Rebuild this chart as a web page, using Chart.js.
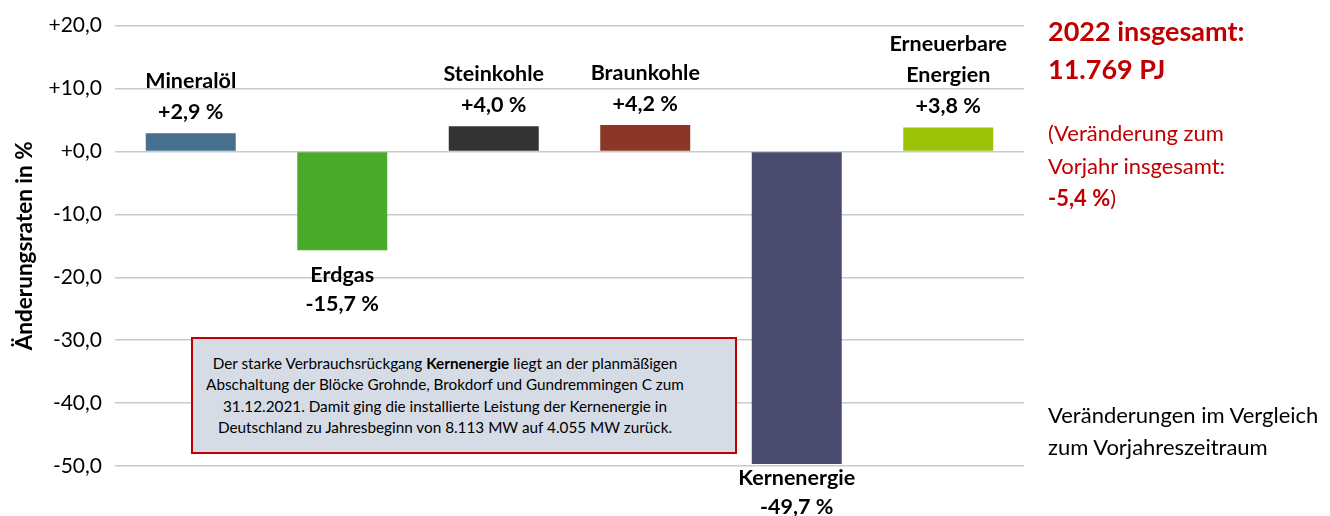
<!DOCTYPE html>
<html>
<head>
<meta charset="utf-8">
<script src="https://cdn.jsdelivr.net/npm/chart.js@4/dist/chart.umd.min.js"></script>
<style>
  html, body { margin: 0; padding: 0; background: #fff; }
  #wrap { position: relative; width: 1330px; height: 516px; font-family: Lato, sans-serif; }
  canvas { position: absolute; left: 0; top: 0; }
  .note {
    position: absolute; left: 191px; top: 337px; width: 504px; height: 113px;
    padding-right: 38px;
    border: 2.5px solid #c00000; background: #d6dce5; color: #000;
    display: flex; align-items: center; justify-content: center; text-align: center;
    font-size: 15.3px; line-height: 21.4px;
  }
  .side { position: absolute; left: 1048px; white-space: nowrap; }
  .total { top: 12px; color: #c00000; font-weight: bold; font-size: 27px; line-height: 38px; }
  .change { top: 117px; color: #c00000; font-size: 22px; line-height: 32.5px; }
  .hint { top: 399px; color: #000; font-size: 22px; line-height: 32px; }
</style>
</head>
<body>
<div id="wrap">
  <canvas id="chart" width="1330" height="516"></canvas>
  <div class="note"><div>Der starke Verbrauchsrückgang <b>Kernenergie</b> liegt an der planmäßigen<br>Abschaltung der Blöcke Grohnde, Brokdorf und Gundremmingen C zum<br>31.12.2021. Damit ging die installierte Leistung der Kernenergie in<br>Deutschland zu Jahresbeginn von 8.113 MW auf 4.055 MW zurück.</div></div>
  <div class="side total">2022 insgesamt:<br>11.769 PJ</div>
  <div class="side change">(Veränderung zum<br>Vorjahr insgesamt:<br><b>-5,4 %</b>)</div>
  <div class="side hint">Veränderungen im Vergleich<br>zum Vorjahreszeitraum</div>
</div>
<script>
const categories = ['Mineralöl', 'Erdgas', 'Steinkohle', 'Braunkohle', 'Kernenergie', ['Erneuerbare', 'Energien']];
const changes = [2.9, -15.7, 4.0, 4.2, -49.7, 3.8];
const barColors = ['#47708f', '#4aab2a', '#333333', '#8b3626', '#4b4b70', '#9dc206'];
const yTicks = [20, 10, 0, -10, -20, -30, -40, -50];

const fmt = (v, digits) => (v >= 0 ? '+' : '') + v.toFixed(digits).replace('.', ',');

// Beschriftung über / unter den Balken
const barLabels = {
  id: 'barLabels',
  afterDatasetsDraw(chart) {
    const ctx = chart.ctx;
    const meta = chart.getDatasetMeta(0);
    ctx.save();
    ctx.font = 'bold 21.5px Lato, sans-serif';
    ctx.fillStyle = '#000';
    ctx.textAlign = 'center';
    ctx.textBaseline = 'middle';
    meta.data.forEach((bar, i) => {
      const name = Array.isArray(categories[i]) ? categories[i] : [categories[i]];
      const lines = [...name, fmt(changes[i], 1) + ' %'];
      if (changes[i] >= 0) {
        lines.slice().reverse().forEach((t, k) => ctx.fillText(t, bar.x, bar.y - 21 - k * 31));
      } else {
        let first = bar.y + 25;
        const last = first + (lines.length - 1) * 29;
        if (last > 507) first -= last - 507;
        lines.forEach((t, k) => ctx.fillText(t, bar.x, first + k * 29));
      }
    });
    ctx.restore();
  }
};

new Chart(document.getElementById('chart'), {
  type: 'bar',
  data: {
    labels: categories,
    datasets: [{
      data: changes,
      backgroundColor: barColors,
      barPercentage: 0.594,
      categoryPercentage: 1
    }]
  },
  options: {
    responsive: false,
    animation: false,
    layout: { padding: { left: 0, right: 306, top: 25, bottom: 50 } },
    plugins: { legend: { display: false }, tooltip: { enabled: false } },
    scales: {
      x: { display: false },
      y: {
        min: -50,
        max: 20,
        afterFit: s => { s.width = 115; },
        afterBuildTicks: s => { s.ticks = yTicks.map(v => ({ value: v })); },
        grid: { color: '#c3cbd6', lineWidth: 1.5, drawTicks: false },
        border: { display: false },
        ticks: {
          padding: 13,
          color: '#000',
          font: { family: 'Lato, sans-serif', size: 21 },
          callback: v => fmt(v, 1)
        },
        title: {
          display: true,
          text: 'Änderungsraten in %',
          color: '#000',
          font: { family: 'Lato, sans-serif', size: 22.5, weight: 'bold' },
          padding: { top: 11, bottom: 0 }
        }
      }
    }
  },
  plugins: [barLabels]
});
</script>
</body>
</html>
